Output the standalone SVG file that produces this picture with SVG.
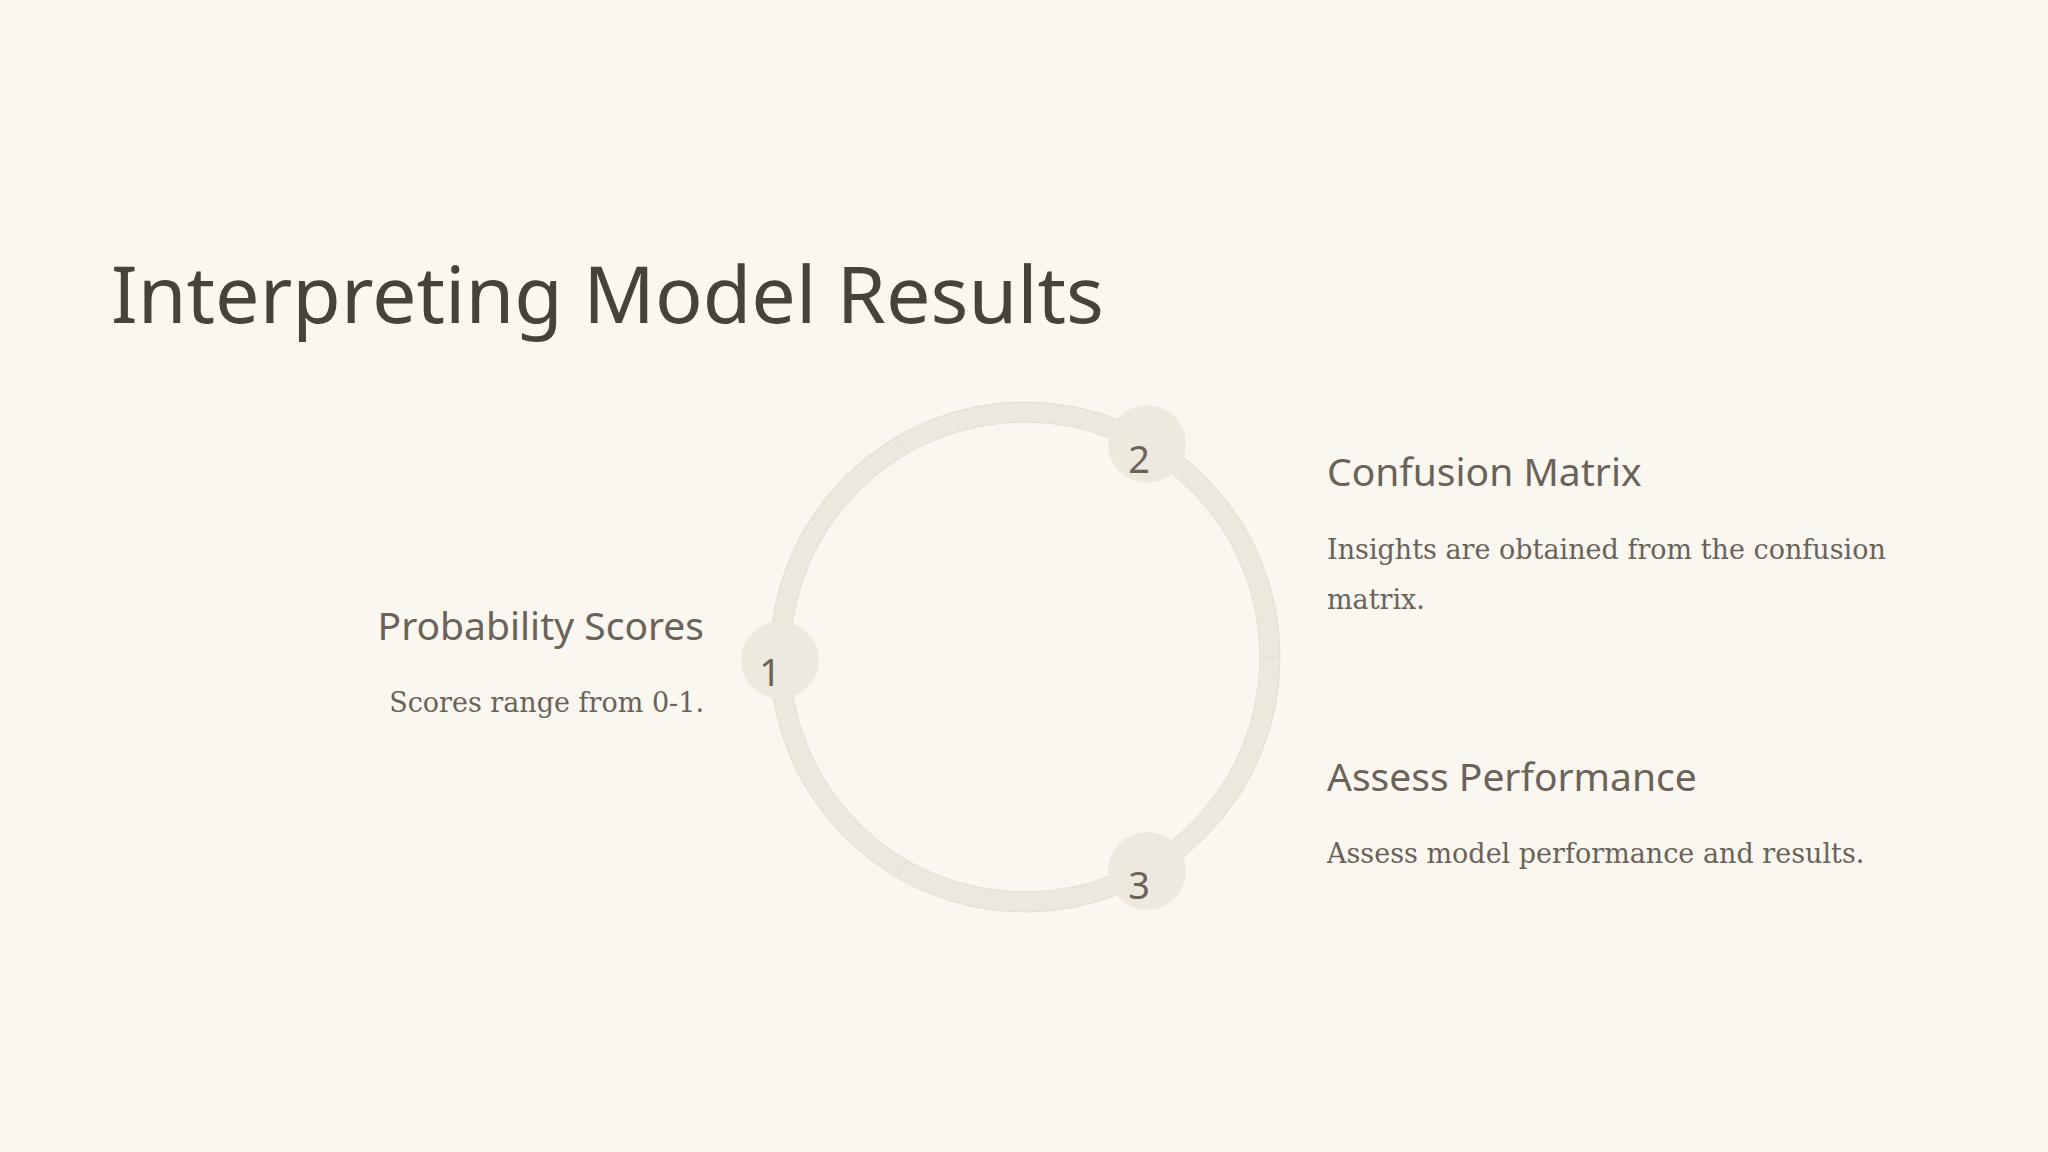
<svg xmlns="http://www.w3.org/2000/svg" width="2048" height="1152" viewBox="0 0 2048 1152">
<style>
.bg{fill:#faf7f1}
.seg{fill:none;stroke:#ece8de;stroke-width:20}
.segedge{fill:none;stroke:#e3ded2;stroke-width:1}
.node{fill:#ede9df}
.num{font-family:"Noto Sans",sans-serif;font-size:38px;fill:#6b6258;text-anchor:middle}
.title{font-family:"Noto Sans",sans-serif;font-size:79px;fill:#47433a}
.head{font-family:"Noto Sans",sans-serif;font-size:39px;fill:#6b6258}
.body{font-family:"DejaVu Serif",serif;font-size:27px;fill:#6b6258}
</style>
<rect class="bg" x="0" y="0" width="2048" height="1152"/>
<text class="title" x="111" y="323">Interpreting Model Results</text>
<g id="connectors">
<path class="seg" d="M 902.5 444.8 A 245 245 0 0 1 1270 657"/>
<path class="seg" d="M 1270 657 A 245 245 0 0 1 902.5 869.2"/>
<path class="seg" d="M 902.5 869.2 A 245 245 0 0 1 902.5 444.8"/>
<g class="segedge">
<circle cx="1025" cy="657" r="255"/>
<circle cx="1025" cy="657" r="235"/>
<line x1="897.5" y1="436.2" x2="907.5" y2="453.5"/>
<line x1="1260" y1="657" x2="1280" y2="657"/>
<line x1="897.5" y1="877.8" x2="907.5" y2="860.5"/>
</g>
</g>
<g id="node1">
<circle class="node" cx="780" cy="660" r="39"/>
<text class="num" x="770" y="686">1</text>
<text class="head" x="704" y="640" text-anchor="end">Probability Scores</text>
<text class="body" x="704" y="712" text-anchor="end">Scores range from 0-1.</text>
</g>
<g id="node2">
<circle class="node" cx="1147" cy="444" r="39"/>
<text class="num" x="1139" y="473">2</text>
<text class="head" x="1327" y="486">Confusion Matrix</text>
<text class="body" x="1327" y="559">Insights are obtained from the confusion</text>
<text class="body" x="1327" y="609">matrix.</text>
</g>
<g id="node3">
<circle class="node" cx="1147" cy="871" r="39"/>
<text class="num" x="1139" y="899">3</text>
<text class="head" x="1327" y="791">Assess Performance</text>
<text class="body" x="1327" y="863">Assess model performance and results.</text>
</g>
</svg>
